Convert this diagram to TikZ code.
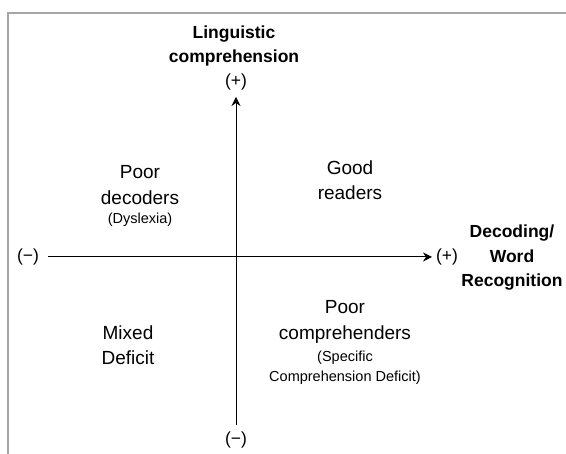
\documentclass[tikz,border=0pt]{standalone}
\usepackage{fontspec}
\setmainfont{Liberation Sans}
\usetikzlibrary{arrows.meta,positioning}
\begin{document}
\begin{tikzpicture}[x=1pt,y=1pt,
  quad/.style={align=center,font=\fontsize{19}{25.5}\selectfont},
  note/.style={align=center,font=\fontsize{14.5}{19.5}\selectfont},
  axlabel/.style={align=center,font=\bfseries\fontsize{17.5}{24.5}\selectfont},
  sign/.style={font=\fontsize{17.5}{20}\selectfont},
  axis/.style={line width=1pt,-{Stealth[length=9pt,width=9pt,inset=3pt]}}]
\useasboundingbox (0,0) rectangle (566,454);
\draw[gray!70,line width=1.5pt] (8,0) -- (8,441) -- (566,441);
\coordinate (ytop) at (236,357);
\coordinate (ybot) at (236,29);
\coordinate (xleft) at (48,197);
\coordinate (xright) at (432,197);
\draw[axis] (xleft) -- (xright);
\draw[axis] (ybot) -- (ytop);
\node[sign] (xminus) at (28,197) {(−)};
\node[sign] (xplus) at (447,197) {(+)};
\node[sign] (yplus) at (236,372) {(+)};
\node[sign] (yminus) at (236,14) {(−)};
\node[axlabel] (ylabel) at (234,408) {Linguistic\\comprehension};
\node[axlabel] (xlabel) at (512,196) {Decoding/\\Word\\Recognition};
\node[quad] (poordec) at (140,269) {Poor\\decoders};
\node[note] (dyslexia) at (140,234.5) {(Dyslexia)};
\node[quad] (good) at (350,274) {Good\\readers};
\node[quad] (mixed) at (128,109) {Mixed\\Deficit};
\node[quad] (poorcomp) at (345,132) {Poor\\comprehenders};
\node[note] (specific) at (345,86) {(Specific\\Comprehension Deficit)};
\end{tikzpicture}
\end{document}
